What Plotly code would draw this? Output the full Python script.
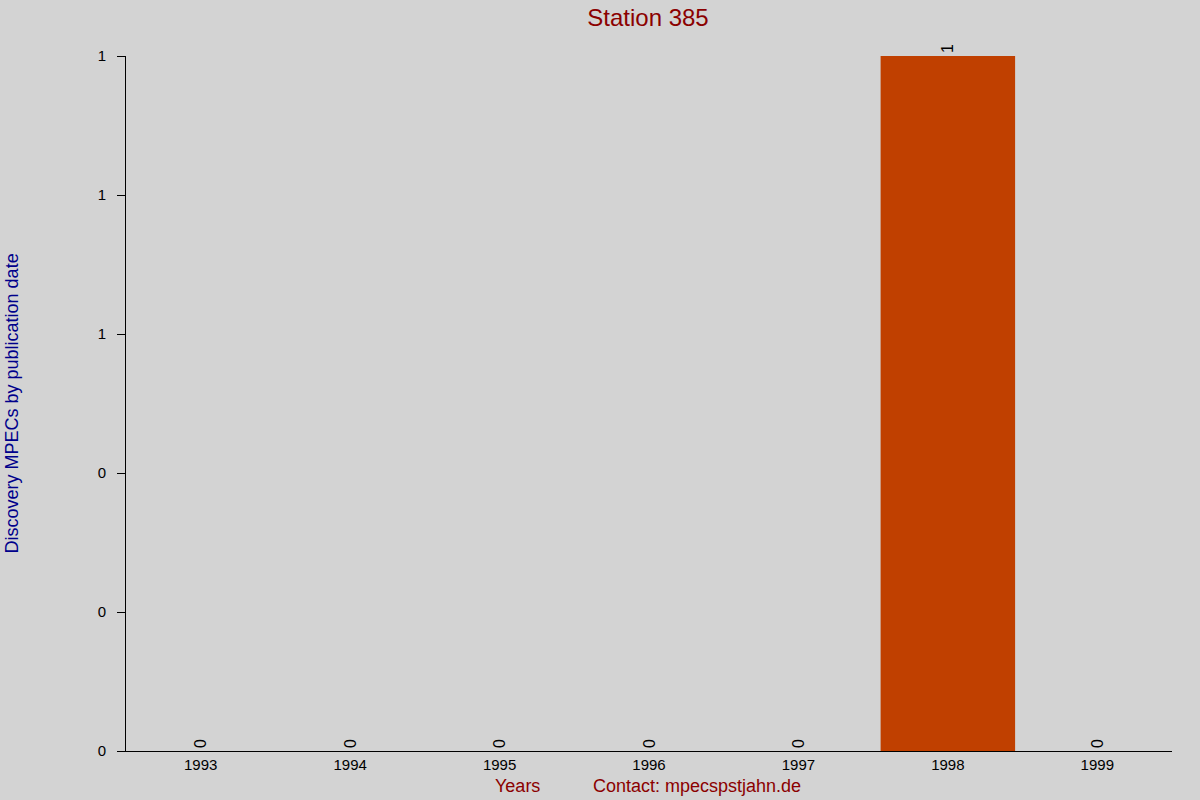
import plotly.graph_objects as go

years = ["1993", "1994", "1995", "1996", "1997", "1998", "1999"]
counts = [0, 0, 0, 0, 0, 1, 0]
ytick_vals = [0, 0.2, 0.4, 0.6, 0.8, 1.0]
ytick_text = ["0", "0", "0", "1", "1", "1"]

fig = go.Figure()
fig.add_trace(go.Bar(
    x=years, y=counts,
    marker=dict(color="#c04000", line=dict(width=0)),
    text=[str(c) for c in counts],
    textposition="outside",
    textangle=-90,
    cliponaxis=False,
    textfont=dict(family="Liberation Sans, Arial", size=16, color="#000000"),
))

fig.update_layout(
    width=1200, height=800,
    paper_bgcolor="#d3d3d3", plot_bgcolor="#d3d3d3",
    margin=dict(l=126, r=28, t=56, b=49),
    bargap=0.1,
    showlegend=False,
    font=dict(family="Liberation Sans, Arial", size=15, color="#000000"),
    title=dict(text="Station 385", x=0.54, xanchor="center", y=0.978, yanchor="middle",
               font=dict(size=24, color="#8b0000")),
    xaxis=dict(showgrid=False, showline=True, linecolor="#000000", linewidth=1,
               ticks="", tickfont=dict(size=15), zeroline=False),
    yaxis=dict(range=[0, 1], tickvals=ytick_vals, ticktext=ytick_text,
               showgrid=False, showline=True, linecolor="#000000", linewidth=1,
               ticks="outside", ticklen=8, tickcolor="#000000",
               ticklabelstandoff=8,
               tickfont=dict(size=15), zeroline=False),
    annotations=[
        dict(text="Discovery MPECs by publication date", xref="paper", yref="paper",
             x=-0.109, y=0.5, textangle=-90, showarrow=False,
             font=dict(size=18, color="#00008b"), xanchor="center", yanchor="middle"),
        dict(text="Years", xref="paper", yref="paper", x=0.374, y=-0.05,
             showarrow=False, font=dict(size=18, color="#8b0000"),
             xanchor="center", yanchor="middle"),
        dict(text="Contact: mpecspstjahn.de", xref="paper", yref="paper", x=0.546, y=-0.05,
             showarrow=False, font=dict(size=18, color="#8b0000"),
             xanchor="center", yanchor="middle"),
    ],
)

fig.write_html("out.html", config={"displayModeBar": False},
               post_script="document.body.style.margin='0';")
